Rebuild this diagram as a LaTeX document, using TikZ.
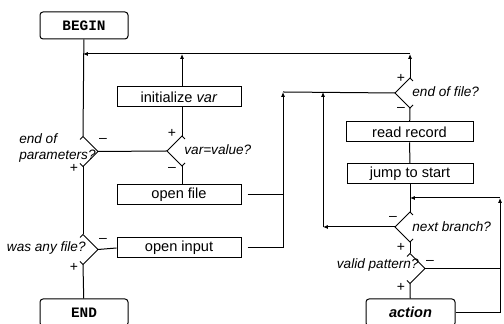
\documentclass[tikz,border=0pt]{standalone}
\usepackage{fontspec}
\setmainfont{Liberation Sans}
\setmonofont{Liberation Mono}
\usetikzlibrary{arrows.meta,positioning,calc,shapes.geometric}
% half-open decision marks, pointing right or left
\newcommand{\chevR}[1]{\draw[link] ($(#1.north)!.2!(#1.west)$) -- (#1.north) -- (#1.east) -- (#1.south) -- ($(#1.south)!.2!(#1.west)$);}
\newcommand{\chevL}[1]{\draw[link] ($(#1.north)!.2!(#1.east)$) -- (#1.north) -- (#1.west) -- (#1.south) -- ($(#1.south)!.2!(#1.east)$);}

\begin{document}
\begin{tikzpicture}[
  x=.5pt, y=-.5pt,
  >=Latex,
  box/.style={draw, line width=.5pt, fill=white, minimum width=62pt, minimum height=10pt,
    inner sep=0pt, font=\fontsize{7.3}{8}\selectfont},
  term/.style={box, rounded corners=1.5pt, minimum width=44pt, minimum height=13.5pt},
  ask/.style={diamond, minimum width=15pt, minimum height=15pt, inner sep=0pt, outer sep=0pt},
  link/.style={line width=.5pt},
  flow/.style={link, -{Latex[length=2.4pt,width=2pt]}},
  qtext/.style={inner sep=0pt, font=\fontsize{6.8}{7.6}\selectfont\itshape, align=left},
  sgn/.style={inner sep=0pt, font=\fontsize{7}{8}\selectfont}
]
  \useasboundingbox (0,0) rectangle (504,324);

  % left column
  \node[term, font=\fontsize{7.2}{8}\selectfont\ttfamily\bfseries] (start) at (84,25.5) {BEGIN};
  \node[ask] (params) at (83,151.5) {};
  \node[ask] (value) at (182,151) {};
  \node[box] (init) at (179,97) {initialize \textit{var}};
  \node[box] (ofile) at (179,194.5) {open file};
  \node[ask] (anyfile) at (83,249.5) {};
  \node[box] (oinput) at (179,248) {open input};
  \node[term, font=\fontsize{7.2}{8}\selectfont\ttfamily\bfseries] (stop) at (84,312.5) {END};

  % right column
  \node[ask] (eof) at (410,93) {};
  \node[box, minimum width=63.5pt] (read) at (409.5,132) {read record};
  \node[box, minimum width=63pt] (jump) at (410,173.5) {jump to start};
  \node[ask] (next) at (410,227) {};
  \node[ask] (valid) at (410,268.5) {};
  \node[term, minimum width=44.5pt, font=\fontsize{7.3}{8}\selectfont\bfseries\itshape] (act) at (410.5,312.5) {action};

  \coordinate (top) at (83,54);
  \coordinate (busA) at (283,92);
  \coordinate (busB) at (323,92);
  \coordinate (back) at (500,198);

  \chevR{params} \chevL{value} \chevR{anyfile}
  \chevL{eof} \chevL{next} \chevR{valid}

  % questions
  \node[qtext, anchor=east] (qparams) at (96,148) {end of\\parameters?};
  \node[qtext, anchor=west] (qvalue) at (184,150) {var=value?};
  \node[qtext, anchor=east] (qany) at (86,248) {was any file?};
  \node[qtext, anchor=west] (qeof) at (412,92) {end of file?};
  \node[qtext, anchor=west] (qnext) at (412,227) {next branch?};
  \node[qtext, anchor=east] (qvalid) at (419,265) {valid pattern?};

  % answers
  \node[sgn] (params-no) at (103,140) {\textendash};
  \node[sgn] (params-yes) at (74,168) {+};
  \node[sgn] (value-yes) at (172,133) {+};
  \node[sgn] (value-no) at (172,169) {\textendash};
  \node[sgn] (anyfile-no) at (103,240) {\textendash};
  \node[sgn] (anyfile-yes) at (74,267) {+};
  \node[sgn] (eof-yes) at (401,78) {+};
  \node[sgn] (eof-no) at (401,110) {\textendash};
  \node[sgn] (next-no) at (393,218) {\textendash};
  \node[sgn] (next-yes) at (401,247) {+};
  \node[sgn] (valid-no) at (430,262) {\textendash};
  \node[sgn] (valid-yes) at (401,287) {+};

  % connectors
  \draw[link] (start) -- (params.north);
  \draw[link] (params.south) -- (anyfile.north);
  \draw[link] (anyfile.south) -- (stop);
  \draw[link] (params.east) -- (value.west);
  \draw[link] (value.north) -- (value.north |- init.south);
  \draw[flow] (value.north |- init.north) -- (value.north |- top);
  \draw[link] (value.south) -- (value.south |- ofile.north);
  \draw[link] (anyfile.east) -- (oinput.west);
  \draw[flow] (eof.north) -- (eof.north |- top);
  \draw[flow] (eof.north |- top) -- (top);
  \draw[link, shorten <=3pt] (ofile.east) -- (ofile.east -| busA);
  \draw[flow, shorten <=3pt] (oinput.east) -| (busA);
  \draw[link] (busA) -- (eof.west);
  \draw[flow] (next.west) -- (next.west -| busB);
  \draw[flow] (next.west -| busB) -- (busB);
  \draw[link] (eof.south) -- (read);
  \draw[link] (read) -- (jump);
  \draw[link] (jump) -- (next.north);
  \draw[link] (next.south) -- (valid.north);
  \draw[link] (valid.south) -- (act);
  \draw[link] (valid.east) -- (valid.east -| back);
  \draw[flow] (act.east) -| (back);
  \draw[flow] (back) -- (back -| jump.south);
\end{tikzpicture}
\end{document}
